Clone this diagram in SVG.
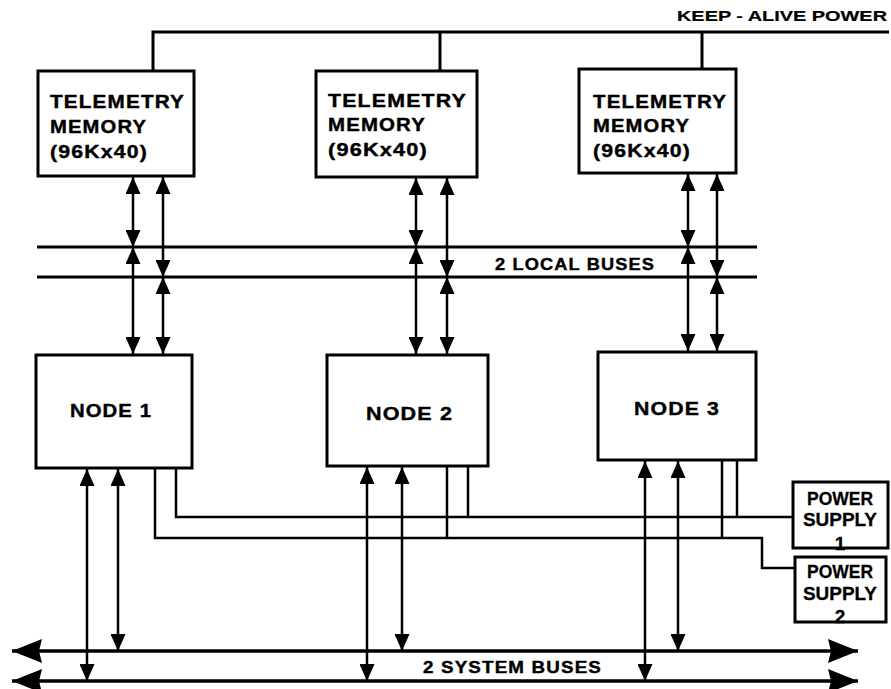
<svg xmlns="http://www.w3.org/2000/svg" width="891" height="689" viewBox="0 0 891 689">
<style>
.box{fill:#fff;stroke:#000;stroke-width:3}
.t{font-family:"Liberation Sans",Arial,sans-serif;font-weight:bold;fill:#000;stroke:#000;stroke-width:0.4}
.m{font-size:18px;letter-spacing:1px}
.n{font-size:19px;letter-spacing:1px}
.p{font-size:19px;text-anchor:middle;stroke-width:0.3}
.ln{fill:none;stroke:#000;stroke-width:2.5}
.bus{fill:none;stroke:#000;stroke-width:3}
.arr{fill:none;stroke:#000;stroke-width:2.5;marker-start:url(#ah);marker-end:url(#ah)}
.sb{fill:none;stroke:#000;stroke-width:3.5;marker-start:url(#bh);marker-end:url(#bh)}
</style>
<defs>
<marker id="ah" markerUnits="userSpaceOnUse" markerWidth="17" markerHeight="15" refX="17" refY="7.5" orient="auto-start-reverse" viewBox="0 0 17 15">
<path d="M0,0 L17,7.5 L0,15 Z" fill="#000"/>
</marker>
<marker id="bh" markerUnits="userSpaceOnUse" markerWidth="30" markerHeight="24" refX="30" refY="12" orient="auto-start-reverse" viewBox="0 0 30 24">
<path d="M0,0 L30,12 L0,24 L3,12 Z" fill="#000"/>
</marker>
</defs>

<g id="connectors">
<!-- keep-alive power -->
<path class="bus" d="M153,71 V32 H889 M440,32 V71 M702,32 V69"/>
<!-- local buses -->
<path class="bus" d="M37,247 H757 M37,277 H757"/>
<!-- system buses -->
<path class="sb" d="M12,651 H858"/>
<path class="sb" d="M12,681 H858"/>
<!-- memory/node to local bus arrows -->
<path class="arr" d="M133,177 V247"/>
<path class="arr" d="M133,247 V354"/>
<path class="arr" d="M163,177 V277"/>
<path class="arr" d="M163,277 V354"/>
<path class="arr" d="M416,178 V247"/>
<path class="arr" d="M416,247 V354"/>
<path class="arr" d="M447,178 V277"/>
<path class="arr" d="M447,277 V354"/>
<path class="arr" d="M688,174 V247"/>
<path class="arr" d="M688,247 V351"/>
<path class="arr" d="M717,174 V277"/>
<path class="arr" d="M717,277 V351"/>
<!-- node to system bus arrows -->
<path class="arr" d="M87,469 V681"/>
<path class="arr" d="M118,469 V651"/>
<path class="arr" d="M367,467 V681"/>
<path class="arr" d="M402,467 V651"/>
<path class="arr" d="M645,461 V681"/>
<path class="arr" d="M678,461 V651"/>
<!-- power lines -->
<path class="ln" d="M176,468 V517 H793 M468,466 V517 M737,460 V517"/>
<path class="ln" d="M155,468 V538 H762 V568 H795 M447,466 V538 M722,460 V538"/>
</g>

<g id="mem1">
<rect class="box" x="38" y="71" width="156" height="105"/>
<text class="t m" x="50" y="108" textLength="135" lengthAdjust="spacingAndGlyphs">TELEMETRY</text>
<text class="t m" x="50" y="133" textLength="97" lengthAdjust="spacingAndGlyphs">MEMORY</text>
<text class="t m" x="50" y="158" textLength="98" lengthAdjust="spacingAndGlyphs">(96Kx40)</text>
</g>
<g id="mem2">
<rect class="box" x="316" y="71" width="161" height="106"/>
<text class="t m" x="328" y="107" textLength="139" lengthAdjust="spacingAndGlyphs">TELEMETRY</text>
<text class="t m" x="328" y="131" textLength="98" lengthAdjust="spacingAndGlyphs">MEMORY</text>
<text class="t m" x="328" y="156" textLength="100" lengthAdjust="spacingAndGlyphs">(96Kx40)</text>
</g>
<g id="mem3">
<rect class="box" x="579" y="69" width="157" height="104"/>
<text class="t m" x="593" y="108" textLength="134" lengthAdjust="spacingAndGlyphs">TELEMETRY</text>
<text class="t m" x="593" y="132" textLength="97" lengthAdjust="spacingAndGlyphs">MEMORY</text>
<text class="t m" x="593" y="157" textLength="98" lengthAdjust="spacingAndGlyphs">(96Kx40)</text>
</g>

<g id="node1">
<rect class="box" x="36" y="355" width="156" height="113"/>
<text class="t n" x="70" y="417" textLength="82" lengthAdjust="spacingAndGlyphs">NODE 1</text>
</g>
<g id="node2">
<rect class="box" x="327" y="355" width="161" height="111"/>
<text class="t n" x="366" y="420" textLength="87" lengthAdjust="spacingAndGlyphs">NODE 2</text>
</g>
<g id="node3">
<rect class="box" x="598" y="352" width="158" height="108"/>
<text class="t n" x="634" y="415" textLength="86" lengthAdjust="spacingAndGlyphs">NODE 3</text>
</g>

<g id="ps1">
<rect class="box" x="793" y="482" width="95" height="66"/>
<text class="t p" x="840" y="505" textLength="66" lengthAdjust="spacingAndGlyphs">POWER</text>
<text class="t p" x="840" y="526" textLength="74" lengthAdjust="spacingAndGlyphs">SUPPLY</text>
<text class="t p" x="840" y="550">1</text>
</g>
<g id="ps2">
<rect class="box" x="795" y="557" width="91" height="65"/>
<text class="t p" x="840" y="578" textLength="66" lengthAdjust="spacingAndGlyphs">POWER</text>
<text class="t p" x="840" y="600" textLength="74" lengthAdjust="spacingAndGlyphs">SUPPLY</text>
<text class="t p" x="840" y="623">2</text>
</g>

<g id="labels">
<text class="t" style="font-size:15px;stroke-width:0.2" x="677" y="21" textLength="210" lengthAdjust="spacingAndGlyphs">KEEP - ALIVE POWER</text>
<text class="t" style="font-size:16px;letter-spacing:1px" x="495" y="270" textLength="160" lengthAdjust="spacingAndGlyphs">2 LOCAL BUSES</text>
<text class="t" style="font-size:16px;letter-spacing:1px" x="423" y="673" textLength="179" lengthAdjust="spacingAndGlyphs">2 SYSTEM BUSES</text>
</g>
</svg>
